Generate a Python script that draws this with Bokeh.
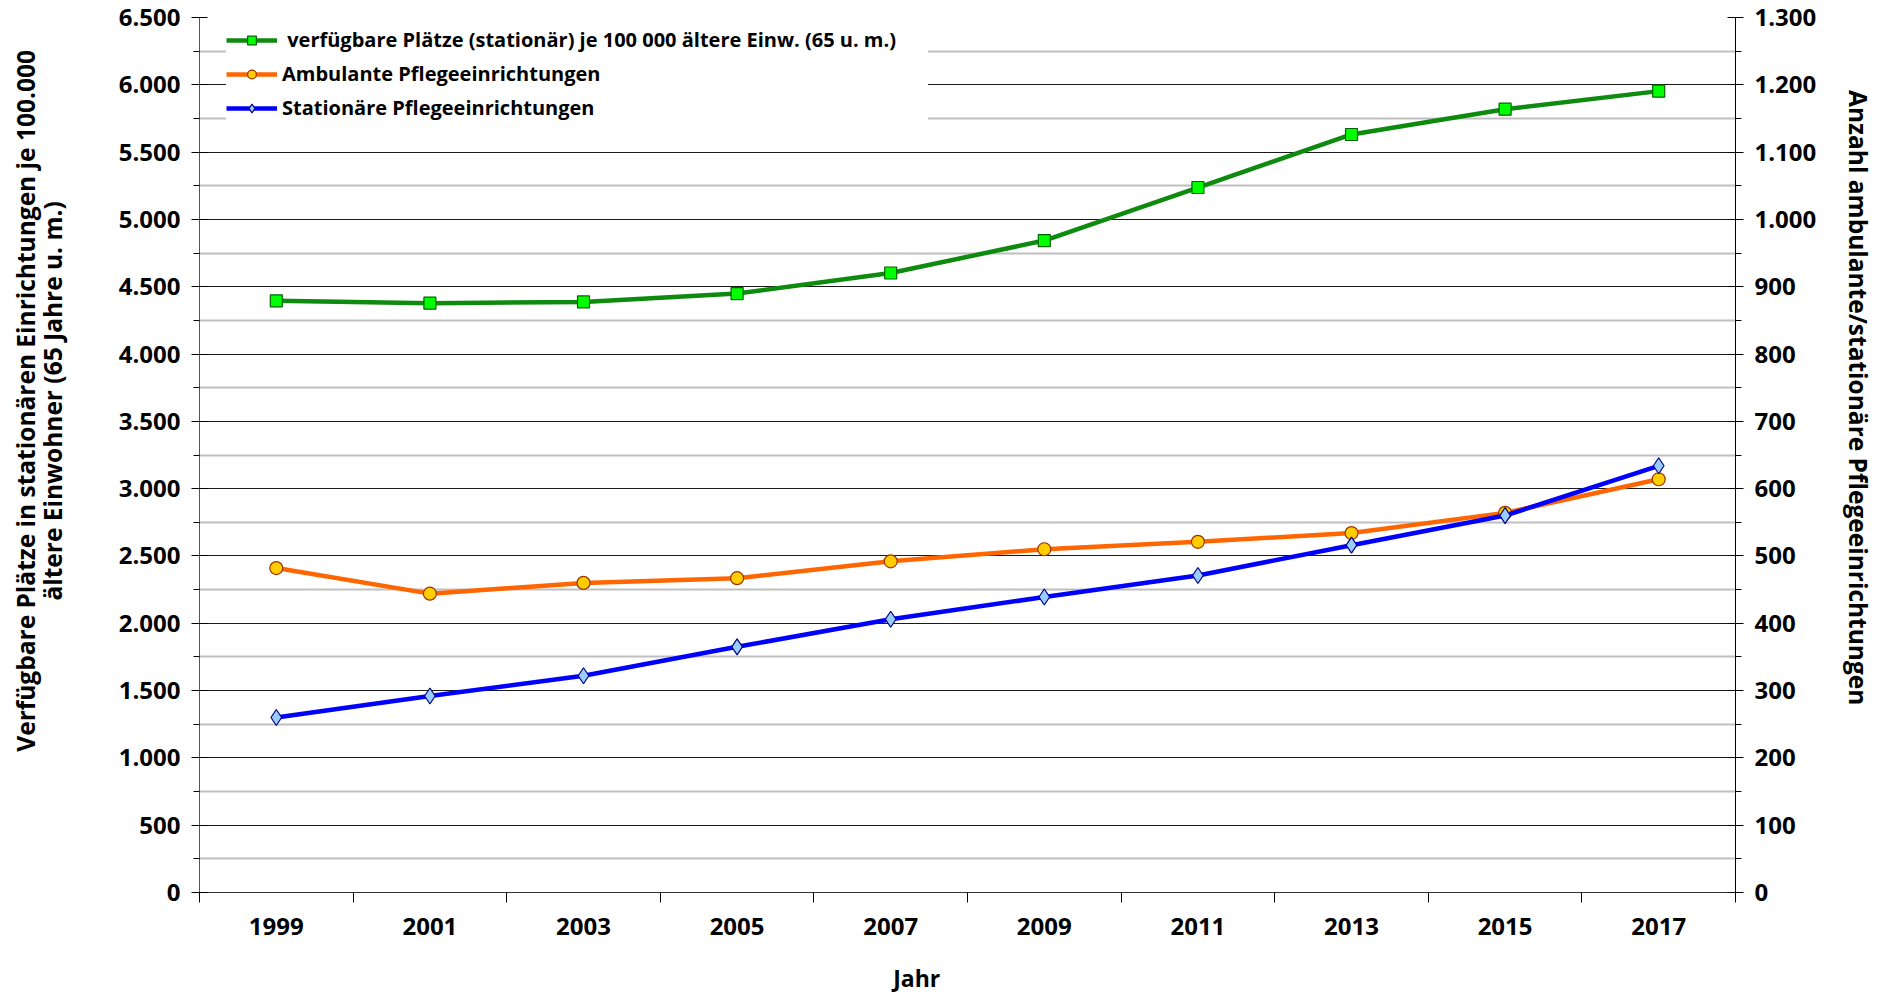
from bokeh.plotting import figure
from bokeh.models import Range1d, LinearAxis, FixedTicker
from bokeh.embed import file_html
from bokeh.resources import INLINE

# ---------------- data ----------------
years = [1999, 2001, 2003, 2005, 2007, 2009, 2011, 2013, 2015, 2017]
plaetze_je_100000 = [4395, 4378, 4387, 4449, 4602, 4843, 5237, 5631, 5819, 5953]
ambulante = [482, 444, 460, 467, 492, 510, 521, 534, 564, 614]
stationaere = [260, 292, 322, 365, 406, 439, 471, 516, 560, 634]

left_ticks = [0, 500, 1000, 1500, 2000, 2500, 3000, 3500, 4000, 4500, 5000, 5500, 6000, 6500]
left_tick_labels = ["0", "500", "1.000", "1.500", "2.000", "2.500", "3.000", "3.500",
                    "4.000", "4.500", "5.000", "5.500", "6.000", "6.500"]
right_ticks = [0, 100, 200, 300, 400, 500, 600, 700, 800, 900, 1000, 1100, 1200, 1300]
right_tick_labels = ["0", "100", "200", "300", "400", "500", "600", "700", "800", "900",
                     "1.000", "1.100", "1.200", "1.300"]

label_green = " verfügbare Plätze (stationär) je 100 000 ältere Einw. (65 u. m.)"
label_orange = "Ambulante Pflegeeinrichtungen"
label_blue = "Stationäre Pflegeeinrichtungen"
title_left_1 = "Verfügbare Plätze in stationären Einrichtungen je 100.000"
title_left_2 = "ältere Einwohner (65 Jahre u. m.)"
title_right = "Anzahl ambulante/stationäre Pflegeeinrichtungen"
title_x = "Jahr"

FONT = "Open Sans"
TICK_SIZE = "24px"
TITLE_SIZE = "24.5px"
NB = "\u00a0"  # non-breaking space, used to shift the titles along their axis as in the original

# ---------------- figure ----------------
p = figure(width=1885, height=998, output_backend="svg", toolbar_location=None,
           x_range=Range1d(years[0] - 1, years[-1] + 1),
           y_range=Range1d(left_ticks[0], left_ticks[-1]),
           min_border_left=199, min_border_right=150, min_border_top=17, min_border_bottom=106)
p.outline_line_color = None
p.background_fill_color = "white"
p.extra_y_ranges = {"right": Range1d(right_ticks[0], right_ticks[-1])}


def style_labels(ax, size=TICK_SIZE):
    ax.major_label_text_font = FONT
    ax.major_label_text_font_style = "bold"
    ax.major_label_text_font_size = size
    ax.major_label_text_color = "black"


def title_axis(text, side, standoff, size=TITLE_SIZE):
    ax = LinearAxis(ticker=FixedTicker(ticks=[], minor_ticks=[]))
    ax.axis_line_color = None
    ax.major_tick_line_color = None
    ax.minor_tick_line_color = None
    ax.major_tick_out = 0
    ax.minor_tick_out = 0
    ax.major_label_text_font_size = "0px"
    ax.axis_label = text
    ax.axis_label_standoff = standoff
    ax.axis_label_text_font = FONT
    ax.axis_label_text_font_style = "bold"
    ax.axis_label_text_font_size = size
    ax.axis_label_text_color = "black"
    p.add_layout(ax, side)
    return ax


# x axis: ticks between categories, labels in the middle
boundaries = [y - 1 for y in years] + [years[-1] + 1]
xa = p.xaxis[0]
xa.ticker = FixedTicker(ticks=years, minor_ticks=boundaries)
xa.major_label_overrides = {y: str(y) for y in years}
xa.major_tick_in = 0
xa.major_tick_out = 0
xa.minor_tick_in = 0
xa.minor_tick_out = 10
xa.minor_tick_line_color = "black"
xa.axis_line_color = "#333333"
xa.major_label_standoff = 15
style_labels(xa)

# left axis
left_minor = [t + 250 for t in left_ticks[:-1]]
lticker = FixedTicker(ticks=left_ticks, minor_ticks=left_minor)
ya = p.yaxis[0]
ya.ticker = lticker
ya.major_label_overrides = dict(zip(left_ticks, left_tick_labels))
ya.major_tick_in = 8
ya.major_tick_out = 8
ya.minor_tick_in = 0
ya.minor_tick_out = 6
ya.axis_line_color = "#555555"
ya.major_tick_line_color = "black"
ya.minor_tick_line_color = "black"
ya.major_label_standoff = 11
style_labels(ya)

# right axis
right_minor = [t + 50 for t in right_ticks[:-1]]
ra = LinearAxis(y_range_name="right", ticker=FixedTicker(ticks=right_ticks, minor_ticks=right_minor))
ra.major_label_overrides = dict(zip(right_ticks, right_tick_labels))
ra.major_tick_in = 8
ra.major_tick_out = 8
ra.minor_tick_in = 0
ra.minor_tick_out = 6
ra.axis_line_color = "black"
ra.major_tick_line_color = "black"
ra.minor_tick_line_color = "black"
ra.major_label_standoff = 11
style_labels(ra)
p.add_layout(ra, "right")

# axis titles (extra tick-less axes placed outside the frame)
title_axis(NB * 17 + title_left_2, "left", 47)
title_axis(NB * 17 + title_left_1, "left", -9)
title_axis(title_right + NB * 18, "right", 22)
title_axis(title_x + NB * 17, "below", 24, size="23px")

# grid
p.xgrid.grid_line_color = None
yg = p.ygrid[0]
yg.ticker = lticker
yg.grid_line_color = "#1a1a1a"
yg.grid_line_width = 1
yg.minor_grid_line_color = "#BFBFBF"
yg.minor_grid_line_width = 2

# ---------------- series ----------------
LW = 4.5
p.line(years, plaetze_je_100000, line_color="#0E8A0E", line_width=LW, legend_label=label_green)
p.scatter(years, plaetze_je_100000, marker="square", size=12, fill_color="#00FF00",
          line_color="#006400", line_width=1.2, legend_label=label_green)

p.line(years, ambulante, y_range_name="right", line_color="#FF6600", line_width=LW,
       legend_label=label_orange)
p.scatter(years, ambulante, y_range_name="right", marker="circle", size=13, fill_color="#FFCC00",
          line_color="#993300", line_width=1.2, legend_label=label_orange)

p.line(years, stationaere, y_range_name="right", line_color="#0000FF", line_width=LW,
       legend_label=label_blue)
p.scatter(years, stationaere, y_range_name="right", marker="diamond", size=16, fill_color="#99CCFF",
          line_color="#000080", line_width=1.2, legend_label=label_blue)

# ---------------- legend ----------------
lg = p.legend[0]
lg.location = (27, 771)
lg.border_line_color = None
lg.background_fill_color = "white"
lg.background_fill_alpha = 1.0
lg.padding = 14
lg.spacing = 7
lg.glyph_width = 51
lg.glyph_height = 22
lg.label_height = 22
lg.label_width = 646
lg.label_standoff = 5
lg.label_text_font = FONT
lg.label_text_font_style = "bold"
lg.label_text_font_size = "20px"
lg.label_text_color = "black"
lg.margin = 0

open("out.html", "w").write(file_html(p, INLINE))
